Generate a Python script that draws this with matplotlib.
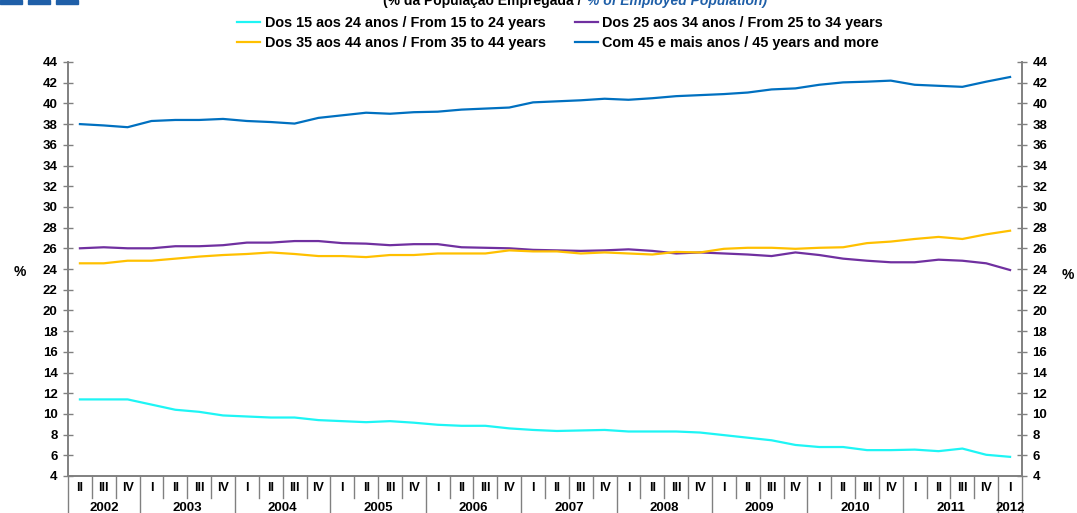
import matplotlib.pyplot as plt
from matplotlib.patches import Rectangle
import matplotlib.transforms as mtransforms

plt.rcParams['font.family'] = ['Liberation Sans', 'DejaVu Sans']
plt.rcParams['font.weight'] = 'bold'

# quarters from 2002 II to 2012 I
QUARTERS = (['II', 'III', 'IV']
            + ['I', 'II', 'III', 'IV'] * 9
            + ['I'])
FIRST_YEAR = 2002

AGE_15_24 = [11.4, 11.4, 11.4, 10.9, 10.4, 10.2, 9.85, 9.75, 9.65, 9.65,
             9.4, 9.3, 9.2, 9.3, 9.15, 8.95, 8.85, 8.85, 8.6, 8.45,
             8.35, 8.4, 8.45, 8.3, 8.3, 8.3, 8.2, 7.95, 7.7, 7.45,
             7.0, 6.8, 6.8, 6.5, 6.5, 6.55, 6.4, 6.65, 6.05, 5.85]
AGE_25_34 = [26.0, 26.1, 26.0, 26.0, 26.2, 26.2, 26.3, 26.55, 26.55, 26.7,
             26.7, 26.5, 26.45, 26.3, 26.4, 26.4, 26.1, 26.05, 26.0, 25.85,
             25.8, 25.75, 25.8, 25.9, 25.75, 25.5, 25.6, 25.5, 25.4, 25.25,
             25.6, 25.35, 25.0, 24.8, 24.65, 24.65, 24.9, 24.8, 24.55, 23.9]
AGE_35_44 = [24.55, 24.55, 24.8, 24.8, 25.0, 25.2, 25.35, 25.45, 25.6, 25.45,
             25.25, 25.25, 25.15, 25.35, 25.35, 25.5, 25.5, 25.5, 25.8, 25.7,
             25.7, 25.5, 25.6, 25.5, 25.4, 25.65, 25.6, 25.95, 26.05, 26.05,
             25.95, 26.05, 26.1, 26.5, 26.65, 26.9, 27.1, 26.9, 27.35, 27.7]
AGE_45_PLUS = [38.0, 37.87, 37.7, 38.3, 38.4, 38.4, 38.5, 38.3, 38.2, 38.05,
               38.6, 38.85, 39.1, 39.0, 39.15, 39.2, 39.4, 39.5, 39.6, 40.1,
               40.2, 40.3, 40.45, 40.35, 40.5, 40.7, 40.8, 40.9, 41.05, 41.35,
               41.45, 41.8, 42.03, 42.1, 42.2, 41.8, 41.7, 41.6, 42.1, 42.55]

SERIES = [
    ('Dos 15 aos 24 anos / From 15 to 24 years', AGE_15_24, '#1EF5F5'),
    ('Dos 25 aos 34 anos / From 25 to 34 years', AGE_25_34, '#7030A0'),
    ('Dos 35 aos 44 anos / From 35 to 44 years', AGE_35_44, '#FFC000'),
    ('Com 45 e mais anos / 45 years and more', AGE_45_PLUS, '#0070C0'),
]

YTICKS = list(range(4, 45, 2))
GREY = '#808080'

fig = plt.figure(figsize=(10.77, 5.13), dpi=100)
ax = fig.add_axes([68 / 1077, 37 / 513, 954 / 1077, 414 / 513])

x = list(range(len(QUARTERS)))
lines = {}
for label, vals, color in SERIES:
    lines[label], = ax.plot(x, vals, color=color, linewidth=1.6, label=label)

ax.set_xlim(-0.5, len(QUARTERS) - 0.5)
ax.set_ylim(4, 44)
ax.set_yticks(YTICKS)
ax.set_xticks([])
ax.tick_params(axis='y', direction='inout', length=7, width=1, color=GREY,
               labelsize=9.5, pad=4)
ax.spines['top'].set_visible(False)
for side in ['left', 'right', 'bottom']:
    ax.spines[side].set_color(GREY)
    ax.spines[side].set_linewidth(1.2)

ax2 = ax.twinx()
ax2.set_ylim(4, 44)
ax2.set_yticks(YTICKS)
ax2.tick_params(axis='y', direction='inout', length=7, width=1, color=GREY,
                labelsize=9.5, pad=4)
ax2.spines['top'].set_visible(False)
for side in ['left', 'right', 'bottom']:
    ax2.spines[side].set_color(GREY)
    ax2.spines[side].set_linewidth(1.2)

for lab in ax.get_yticklabels() + ax2.get_yticklabels():
    lab.set_fontweight('bold')

fig.text(20 / 1077, 1 - 272 / 513, '%', fontsize=10, fontweight='bold',
         ha='center', va='center')
fig.text(1068 / 1077, 1 - 275 / 513, '%', fontsize=10, fontweight='bold',
         ha='center', va='center')

# category axis: quarter row and year row
trans = mtransforms.blended_transform_factory(ax.transData, ax.transAxes)
year = FIRST_YEAR
year_groups = {}
for i, q in enumerate(QUARTERS):
    if q == 'I' and i > 0:
        year += 1
    year_groups.setdefault(year, []).append(i)
    ax.text(i, -0.029, q, transform=trans, ha='center', va='center',
            fontsize=9, fontweight='bold', clip_on=False)

boundaries = set()
for yr, idx in year_groups.items():
    boundaries.add(idx[-1] + 0.5)
    ax.text(sum(idx) / len(idx), -0.078, str(yr), transform=trans,
            ha='center', va='center', fontsize=9.5, fontweight='bold',
            clip_on=False)

for i in range(len(QUARTERS) + 1):
    bx = i - 0.5
    low = -0.095 if (bx in boundaries or i == 0) else -0.052
    ax.plot([bx, bx], [0, low], transform=trans, color=GREY, linewidth=1,
            clip_on=False)

# legend: two rows
order = [SERIES[0][0], SERIES[2][0], SERIES[1][0], SERIES[3][0]]
fig.legend([lines[k] for k in order], order, ncol=2, loc='upper center',
           bbox_to_anchor=(0.52, 0.994), frameon=False,
           handlelength=1.6, handletextpad=0.3, columnspacing=2.0,
           labelspacing=0.38, prop={'weight': 'bold', 'size': 10.4})

# clipped subtitle at the very top
fig.text(0.543, 1 - 5 / 513, '(% da População Empregada / ', fontsize=10,
         fontweight='bold', ha='right', va='baseline')
fig.text(0.545, 1 - 5 / 513, '% of Employed Population)', fontsize=10,
         fontweight='bold', style='italic', color='#1F5FA8', ha='left',
         va='baseline')

# logo bars top-left
for x0 in [0, 28, 56]:
    fig.patches.append(Rectangle((x0 / 1077, 1 - 4 / 513), 22 / 1077, 4 / 513,
                                 transform=fig.transFigure,
                                 color='#1F5FA8'))

fig.savefig('out.png', dpi=100)
